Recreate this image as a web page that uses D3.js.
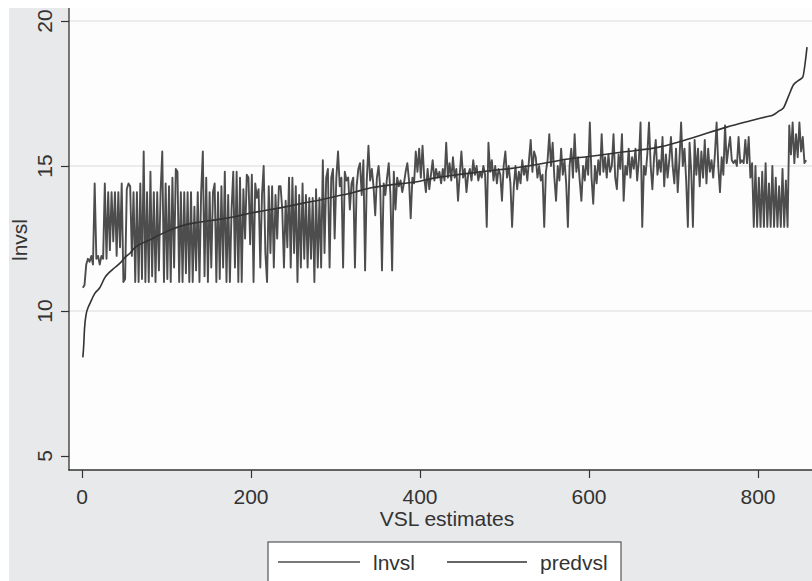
<!DOCTYPE html>
<html>
<head>
<meta charset="utf-8">
<script src="https://cdn.jsdelivr.net/npm/d3@7"></script>
<style>
body { margin: 0; background: #fff; }
text { font-family: "Liberation Sans", Arial, sans-serif; fill: #333; }
</style>
</head>
<body>
<div id="content"></div>
<script>
/* lnvsl, one value every second observation: obs 1, 3, 5 ... 857 */
var lnvsl = [
	// 1..39
	10.8, 10.9, 11.6, 11.8, 11.7, 11.9, 11.6, 14.4, 11.8, 11.9, 11.6, 11.9, 11.8, 14.4, 11.8, 14.1, 12.1, 14.1, 12.4, 14.1,
	// 41..79
	11.9, 14.1, 12.2, 14.4, 11.0, 11.1, 14.2, 14.4, 14.3, 11.9, 14.1, 11.0, 14.1, 11.0, 14.4, 11.1, 15.5, 11.0, 14.1, 11.0,
	// 81..119
	14.8, 11.2, 14.1, 11.0, 14.1, 11.4, 14.1, 15.5, 11.0, 14.4, 11.1, 14.3, 11.0, 14.6, 11.5, 14.9, 14.8, 11.0, 14.1, 11.0,
	// 121..159
	14.1, 11.3, 14.1, 11.0, 14.1, 11.0, 13.6, 11.4, 14.1, 11.0, 14.1, 15.5, 11.2, 14.6, 11.0, 14.1, 11.5, 14.1, 14.4, 11.0,
	// 161..199
	14.1, 11.1, 14.3, 11.5, 14.8, 11.0, 14.0, 11.0, 13.5, 14.8, 11.5, 14.8, 11.0, 14.6, 11.0, 14.2, 12.5, 14.7, 14.6, 12.3,
	// 201..239
	14.7, 11.0, 14.4, 13.9, 14.2, 11.5, 14.0, 15.0, 12.0, 11.0, 14.3, 12.0, 14.3, 11.5, 14.0, 12.5, 14.3, 14.3, 13.5, 11.5,
	// 241..279
	13.8, 12.2, 14.6, 11.5, 14.6, 12.0, 14.3, 11.0, 14.0, 11.5, 14.4, 11.8, 14.0, 11.5, 13.9, 11.8, 13.9, 11.0, 14.2, 11.5,
	// 281..319
	13.9, 11.5, 15.2, 12.0, 14.6, 14.9, 11.5, 14.6, 14.9, 12.5, 14.6, 15.5, 14.3, 14.6, 11.5, 14.8, 14.5, 14.6, 13.5, 14.4,
	// 321..339
	14.6, 11.5, 14.3, 14.9, 15.1, 14.0, 15.2, 11.4, 14.5, 15.7,
	// 341..359
	14.5, 14.9, 14.3, 13.3, 14.6, 15.0, 14.2, 11.4, 14.4, 14.0,
	// 361..399
	14.6, 15.1, 14.0, 11.4, 14.8, 13.5, 14.6, 14.3, 14.5, 14.1, 14.4, 14.8, 15.1, 14.5, 13.2, 14.6, 14.4, 15.5, 14.8, 15.6,
	// 401..439
	14.6, 15.7, 14.6, 14.1, 14.9, 14.2, 14.7, 15.2, 14.5, 14.9, 14.6, 14.8, 14.4, 14.9, 14.5, 15.8, 14.6, 15.1, 14.5, 15.3,
	// 441..479
	14.6, 14.9, 13.8, 14.7, 15.5, 14.6, 14.9, 14.1, 14.7, 14.9, 14.5, 15.2, 14.7, 15.0, 14.5, 14.8, 14.6, 15.0, 14.7, 12.9,
	// 481..509
	15.8, 14.8, 15.2, 14.5, 15.0, 14.4, 14.9, 14.7, 13.8, 15.0, 15.5, 14.6, 15.0, 14.4, 12.9,
	// 511..549
	14.3, 15.0, 14.2, 14.8, 14.4, 15.2, 14.7, 15.0, 14.5, 15.2, 15.9, 14.8, 15.5, 15.3, 14.6, 15.0, 14.5, 14.7, 12.9, 14.8,
	// 551..589
	15.2, 16.1, 15.0, 15.8, 14.6, 13.8, 15.0, 14.5, 15.6, 14.7, 15.2, 14.4, 12.9, 15.0, 15.6, 14.6, 16.1, 14.8, 15.3, 14.5,
	// 591..629
	13.8, 15.0, 14.5, 15.3, 14.7, 16.5, 14.6, 13.7, 15.0, 14.4, 15.2, 14.7, 16.1, 14.8, 15.3, 14.6, 15.4, 14.8, 15.0, 16.1,
	// 631..669
	14.6, 14.2, 15.4, 14.9, 16.1, 13.8, 15.0, 14.7, 15.6, 14.6, 15.3, 14.9, 15.6, 14.5, 15.2, 16.5, 12.9, 15.0, 14.7, 15.4,
	// 671..683
	16.5, 15.0, 14.2, 15.3, 15.9, 14.7, 15.2,
	// 685..723
	14.8, 16.0, 14.3, 15.4, 14.6, 15.2, 16.0, 15.0, 14.4, 15.6, 14.1, 15.2, 16.5, 15.0, 15.6, 14.5, 12.9, 15.8, 14.8, 12.9,
	// 725..763
	15.9, 14.7, 15.6, 14.3, 15.5, 14.6, 15.9, 14.4, 15.6, 14.8, 15.2, 14.6, 15.4, 16.5, 15.0, 14.1, 15.3, 14.7, 16.4, 15.1,
	// 765..803
	15.6, 16.0, 15.2, 15.1, 15.2, 15.0, 16.0, 15.1, 15.2, 15.1, 15.9, 15.1, 16.0, 14.6, 15.1, 12.9, 15.0, 12.9, 14.6, 12.9,
	// 805..843
	14.8, 12.9, 15.1, 12.9, 14.4, 12.9, 15.0, 12.9, 14.6, 12.9, 14.3, 12.9, 14.9, 12.9, 14.5, 12.9, 16.4, 15.4, 16.5, 15.1,
	// 845..857
	16.1, 15.3, 16.5, 15.5, 16.0, 15.1, 15.2
];

/* predvsl read at these observations */
var pred_obs = [1, 2, 3, 5, 7, 10, 15, 21, 27, 33, 39, 45, 51, 57, 63, 72, 80, 90, 105, 122, 140, 160, 180, 200, 220, 242, 262, 282, 300, 320, 341, 365, 394, 420, 450, 480, 512, 540, 566, 600, 640, 684, 720, 763, 790, 810, 818, 825, 830, 836, 842, 848, 853, 856, 858];
var predvsl = [8.4, 8.8, 9.4, 9.9, 10.1, 10.3, 10.6, 10.8, 11.15, 11.35, 11.5, 11.65, 11.85, 12.0, 12.2, 12.35, 12.45, 12.6, 12.8, 12.97, 13.07, 13.15, 13.25, 13.38, 13.48, 13.6, 13.72, 13.83, 13.95, 14.08, 14.24, 14.35, 14.45, 14.6, 14.72, 14.83, 14.93, 15.06, 15.2, 15.33, 15.48, 15.66, 15.95, 16.34, 16.55, 16.7, 16.76, 16.9, 17.0, 17.4, 17.8, 17.95, 18.07, 18.6, 19.1];

var x_ticks = [0, 200, 400, 600, 800];
var y_ticks = [5, 10, 15, 20];
var y_grid = [10, 15, 20];
var legend_names = ["lnvsl", "predvsl"];

var W = 812, H = 581;
var plot = {left: 69, top: 8, right: 812, bottom: 470};

var svg = d3.select("#content").append("svg")
	.attr("width", W)
	.attr("height", H);

svg.append("rect")
	.attr("x", 9).attr("y", 8)
	.attr("width", W - 9).attr("height", H - 8)
	.attr("fill", "#e8e9eb");

svg.append("rect")
	.attr("x", plot.left).attr("y", plot.top)
	.attr("width", plot.right - plot.left).attr("height", plot.bottom - plot.top)
	.attr("fill", "#fdfdfd");

var x = d3.scaleLinear().domain([0, 800]).range([82, 758]);
var y = d3.scaleLinear().domain([5, 20]).range([456, 21]);

svg.append("defs").append("clipPath").attr("id", "clip")
	.append("rect")
	.attr("x", plot.left).attr("y", plot.top)
	.attr("width", plot.right - plot.left).attr("height", plot.bottom - plot.top);

svg.selectAll(".grid").data(y_grid).enter().append("line")
	.attr("class", "grid")
	.attr("x1", plot.left).attr("x2", plot.right)
	.attr("y1", function(d){ return y(d); })
	.attr("y2", function(d){ return y(d); })
	.attr("style", "stroke: #dcdcdc; stroke-width: 1.2px;");

var pts = lnvsl.map(function(v, i){ return [1 + 2*i, v]; });
var pred = pred_obs.map(function(o, i){ return [o, predvsl[i]]; });

var line = d3.line()
	.x(function(d){ return x(d[0]); })
	.y(function(d){ return y(d[1]); });

var g = svg.append("g").attr("clip-path", "url(#clip)");
g.append("path")
	.attr("d", line(pts))
	.attr("style", "fill: none; stroke: #4d4d4d; stroke-width: 1.9px; stroke-linejoin: round;");
g.append("path")
	.attr("d", line.curve(d3.curveMonotoneX)(pred))
	.attr("style", "fill: none; stroke: #333; stroke-width: 1.6px;");

// axes
var yAxis = svg.append("g")
	.attr("transform", "translate(" + plot.left + ",0)")
	.call(d3.axisLeft(y).tickValues(y_ticks).tickSize(8).tickFormat(""));
var xAxis = svg.append("g")
	.attr("transform", "translate(0," + plot.bottom + ")")
	.call(d3.axisBottom(x).tickValues(x_ticks).tickSize(8).tickFormat(""));
[yAxis, xAxis].forEach(function(a){
	a.select(".domain").remove();
	a.selectAll("line").attr("stroke", "#333").attr("stroke-width", 1.2);
});

svg.append("line")
	.attr("x1", plot.left).attr("x2", plot.left)
	.attr("y1", plot.top).attr("y2", plot.bottom + 0.6)
	.attr("style", "stroke: #333; stroke-width: 1.3px;");
svg.append("line")
	.attr("x1", plot.left - 0.6).attr("x2", plot.right)
	.attr("y1", plot.bottom).attr("y2", plot.bottom)
	.attr("style", "stroke: #333; stroke-width: 1.3px;");

svg.selectAll(".ylab").data(y_ticks).enter().append("text")
	.attr("class", "ylab")
	.attr("transform", function(d){ return "translate(52," + y(d) + ") rotate(-90)"; })
	.attr("text-anchor", "middle")
	.attr("font-size", "21px")
	.text(function(d){ return d; });

svg.selectAll(".xlab").data(x_ticks).enter().append("text")
	.attr("class", "xlab")
	.attr("x", function(d){ return x(d); })
	.attr("y", 504)
	.attr("text-anchor", "middle")
	.attr("font-size", "21px")
	.text(function(d){ return d; });

svg.append("text")
	.attr("x", 447).attr("y", 526)
	.attr("text-anchor", "middle")
	.attr("font-size", "21px")
	.text("VSL estimates");

svg.append("text")
	.attr("transform", "translate(27,240) rotate(-90)")
	.attr("text-anchor", "middle")
	.attr("font-size", "21px")
	.text("lnvsl");

/* legend */
svg.append("rect")
	.attr("x", 268).attr("y", 542)
	.attr("width", 353).attr("height", 50)
	.attr("style", "fill: #fff; stroke: #555; stroke-width: 1.2px;");

var legend_x = [[278, 360, 373], [447, 527, 540]];
legend_names.forEach(function(name, i){
	svg.append("line")
		.attr("x1", legend_x[i][0]).attr("x2", legend_x[i][1])
		.attr("y1", 562).attr("y2", 562)
		.attr("style", "stroke: " + (i == 0 ? "#4d4d4d" : "#333") + "; stroke-width: 1.6px;");
	svg.append("text")
		.attr("x", legend_x[i][2]).attr("y", 570)
		.attr("font-size", "21px")
		.text(name);
});
</script>
</body>
</html>
